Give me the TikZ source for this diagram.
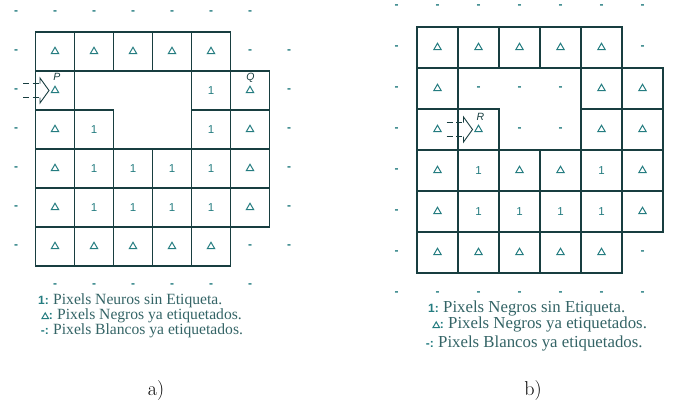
\documentclass[tikz,border=0pt]{standalone}
\usepackage{amsmath,amssymb}
\usepackage{fontspec}
\newfontfamily\legfont{Liberation Serif}
\setsansfont{Liberation Sans}
\usetikzlibrary{positioning,shapes.geometric}
\definecolor{linecol}{RGB}{24,62,64}
\definecolor{markcol}{RGB}{36,124,128}
\definecolor{textcol}{RGB}{52,100,102}
% hollow entry arrow, tip a little left of the given node
\newcommand\entryarrow[1]{%
  \draw[linecol,line width=0.9pt,dash pattern=on 6pt off 3.5pt]
    ([xshift=-32pt,yshift=7pt]#1.center)--([xshift=-15pt,yshift=7pt]#1.center);
  \draw[linecol,line width=0.9pt,dash pattern=on 6pt off 3.5pt]
    ([xshift=-32pt,yshift=-7pt]#1.center)--([xshift=-15pt,yshift=-7pt]#1.center);
  \draw[linecol,line width=0.9pt,line join=miter]
    ([xshift=-15pt,yshift=7pt]#1.center)--([xshift=-15pt,yshift=12.5pt]#1.center)
    --([xshift=-6pt]#1.center)--([xshift=-15pt,yshift=-12.5pt]#1.center)
    --([xshift=-15pt,yshift=-7pt]#1.center);}

\begin{document}
\begin{tikzpicture}[x=1pt,y=-1pt,
   cellbox/.style={draw=linecol,line width=1.4pt},
   wp/.style={text=markcol,inner sep=0pt,font=\sffamily\bfseries\fontsize{12}{12}\selectfont},
   lp/.style={regular polygon,regular polygon sides=3,draw=markcol,line width=1pt,
              minimum size=8.5pt,inner sep=0pt},
   up/.style={text=markcol,inner sep=0pt,font=\sffamily\fontsize{11.5}{11.5}\selectfont},
   lbl/.style={text=linecol,inner sep=0pt,font=\sffamily\itshape\fontsize{10.5}{10.5}\selectfont},
   legtxt/.style={text=textcol,inner sep=0pt,anchor=base west},
   legsym/.style={text=markcol,inner sep=0pt,anchor=base east,font=\sffamily\bfseries\fontsize{12}{12}\selectfont},
   capt/.style={font=\fontsize{20}{24}\selectfont}]
  \useasboundingbox (0,0) rectangle (682,415);
  % ---------- left panel: before the hole is labelled ----------
  \begin{scope}[shift={(16,12.5)},x=39pt,y=-39pt]
    \foreach \i in {1,...,5}{\draw[cellbox](\i-0.5,0.5) rectangle (\i+0.5,1.5);
                             \draw[cellbox](\i-0.5,5.5) rectangle (\i+0.5,6.5);}
    \foreach \j in {4,5}\foreach \i in {1,...,6}
        {\draw[cellbox](\i-0.5,\j-0.5) rectangle (\i+0.5,\j+0.5);}
    \foreach \i/\j in {1/2,5/2,6/2,1/3,2/3,5/3,6/3}
        {\draw[cellbox](\i-0.5,\j-0.5) rectangle (\i+0.5,\j+0.5);}
    % white pixels
    \foreach \i in {0,...,6}{\node[wp] (a-\i-0) at (\i,0) {-};}
    \foreach \i in {1,...,6}{\node[wp] (a-\i-7) at (\i,7) {-};}
    \foreach \j in {1,...,6}{\node[wp] (a-0-\j) at (0,\j) {-};
                             \node[wp] (a-7-\j) at (7,\j) {-};}
    \foreach \j in {1,6}{\node[wp] (a-6-\j) at (6,\j) {-};}
    % labelled black pixels
    \foreach \i/\j in {1/1,2/1,3/1,4/1,5/1,1/2,6/2,1/3,6/3,1/4,6/4,1/5,6/5,
                       1/6,2/6,3/6,4/6,5/6}
        {\node[lp] (a-\i-\j) at (\i,\j) {};}
    % black pixels without label
    \foreach \i/\j in {5/2,2/3,5/3,2/4,3/4,4/4,5/4,2/5,3/5,4/5,5/5}
        {\node[up] (a-\i-\j) at (\i,\j) {1};}
    \node[lbl] (lblP) at ([xshift=2pt,yshift=13.5pt]a-1-2) {P};
    \node[lbl] (lblQ) at ([xshift=0.5pt,yshift=13pt]a-6-2) {Q};
    \entryarrow{a-1-2}
  \end{scope}
  \node[legtxt,font=\legfont\fontsize{15.6}{15.6}\selectfont] (a-leg1) at (53,304.5) {Pixels Neuros sin Etiqueta.};
  \node[legtxt,font=\legfont\fontsize{15.6}{15.6}\selectfont] (a-leg2) at (57,319.5) {Pixels Negros ya etiquetados.};
  \node[legtxt,font=\legfont\fontsize{15.6}{15.6}\selectfont] (a-leg3) at (53,334.5) {Pixels Blancos ya etiquetados.};
  \node[legsym] (a-sym1) at ([xshift=-4pt]a-leg1.base west) {1:};
  \node[legsym] (a-sym2) at ([xshift=-4pt]a-leg2.base west) {:};
  \node[lp,minimum size=7.5pt,anchor=south east] (a-tri) at ([xshift=-1pt,yshift=0.5pt]a-sym2.base west) {};
  \node[legsym] (a-sym3) at ([xshift=-4pt]a-leg3.base west) {-:};
  \node[capt] (cap-a) at (156,391) {a)};
  % ---------- right panel: white pixels of the hole labelled ----------
  \begin{scope}[shift={(396.5,6.5)},x=41pt,y=-41pt]
    \foreach \i in {1,...,5}{\draw[cellbox](\i-0.5,0.5) rectangle (\i+0.5,1.5);
                             \draw[cellbox](\i-0.5,5.5) rectangle (\i+0.5,6.5);}
    \foreach \j in {4,5}\foreach \i in {1,...,6}
        {\draw[cellbox](\i-0.5,\j-0.5) rectangle (\i+0.5,\j+0.5);}
    \foreach \i/\j in {1/2,5/2,6/2,1/3,2/3,5/3,6/3}
        {\draw[cellbox](\i-0.5,\j-0.5) rectangle (\i+0.5,\j+0.5);}
    % white pixels
    \foreach \i in {0,...,6}{\node[wp] (b-\i-0) at (\i,0) {-};
                             \node[wp] (b-\i-7) at (\i,7) {-};}
    \foreach \j in {1,...,6}{\node[wp] (b-0-\j) at (0,\j) {-};}
    \foreach \i/\j in {6/1,6/6,2/2,3/2,4/2,3/3,4/3}
        {\node[wp] (b-\i-\j) at (\i,\j) {-};}
    % labelled black pixels
    \foreach \i/\j in {1/1,2/1,3/1,4/1,5/1,1/2,5/2,6/2,1/3,2/3,5/3,6/3,
                       1/4,3/4,4/4,6/4,1/5,6/5,1/6,2/6,3/6,4/6,5/6}
        {\node[lp] (b-\i-\j) at (\i,\j) {};}
    % black pixels without label
    \foreach \i/\j in {2/4,5/4,2/5,3/5,4/5,5/5}
        {\node[up] (b-\i-\j) at (\i,\j) {1};}
    \node[lbl] (lblR) at ([xshift=2pt,yshift=12.5pt]b-2-3) {R};
    \entryarrow{b-2-3}
  \end{scope}
  \node[legtxt,font=\legfont\fontsize{16.8}{16.8}\selectfont] (b-leg1) at (443,312) {Pixels Negros sin Etiqueta.};
  \node[legtxt,font=\legfont\fontsize{16.8}{16.8}\selectfont] (b-leg2) at (448,328.5) {Pixels Negros ya etiquetados.};
  \node[legtxt,font=\legfont\fontsize{16.8}{16.8}\selectfont] (b-leg3) at (438,347) {Pixels Blancos ya etiquetados.};
  \node[legsym] (b-sym1) at ([xshift=-4pt]b-leg1.base west) {1:};
  \node[legsym] (b-sym2) at ([xshift=-4pt]b-leg2.base west) {:};
  \node[lp,minimum size=7.5pt,anchor=south east] (b-tri) at ([xshift=-1pt,yshift=0.5pt]b-sym2.base west) {};
  \node[legsym] (b-sym3) at ([xshift=-4pt]b-leg3.base west) {-:};
  \node[capt] (cap-b) at (533,391) {b)};
\end{tikzpicture}
\end{document}
